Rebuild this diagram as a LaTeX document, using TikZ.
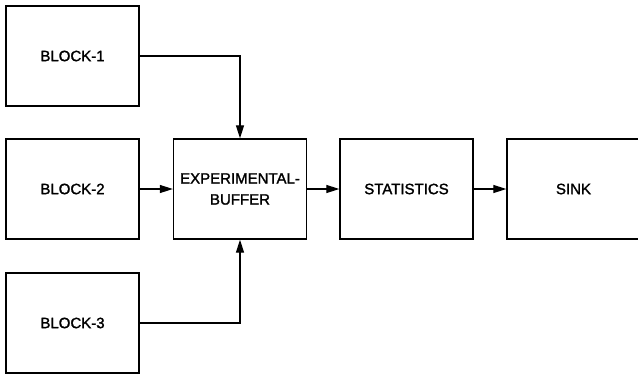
\documentclass[tikz,border=0pt]{standalone}
\usepackage{fontspec}
\setmainfont{Liberation Sans}
\newfontfamily\semib[FakeBold=1.6]{Liberation Sans}
\usetikzlibrary{arrows.meta}
\begin{document}
\begin{tikzpicture}[x=1pt,y=-1pt,
  blk/.style={draw, line width=1.3pt, minimum width=133pt, minimum height=100pt, inner sep=0pt, align=center, font=\semib\fontsize{15}{21}\selectfont},
  conn/.style={line width=1.1pt, -{Triangle[length=13pt,width=8pt]}}]
\useasboundingbox (0,0) rectangle (638,376);
\node[blk] (b1) at (72.5,56) {BLOCK-1};
\node[blk] (b2) at (72.5,189) {BLOCK-2};
\node[blk] (b3) at (72.5,323) {BLOCK-3};
\node[blk] (eb) at (240,189) {EXPERIMENTAL-\\BUFFER};
\node[blk] (st) at (406.5,189) {STATISTICS};
\node[blk] (sk) at (573.5,189) {SINK};
\draw[conn] (b1.east) -| (eb.north);
\draw[conn] (b3.east) -| (eb.south);
\draw[conn] (b2) -- (eb);
\draw[conn] (eb) -- (st);
\draw[conn] (st) -- (sk);
\end{tikzpicture}
\end{document}
